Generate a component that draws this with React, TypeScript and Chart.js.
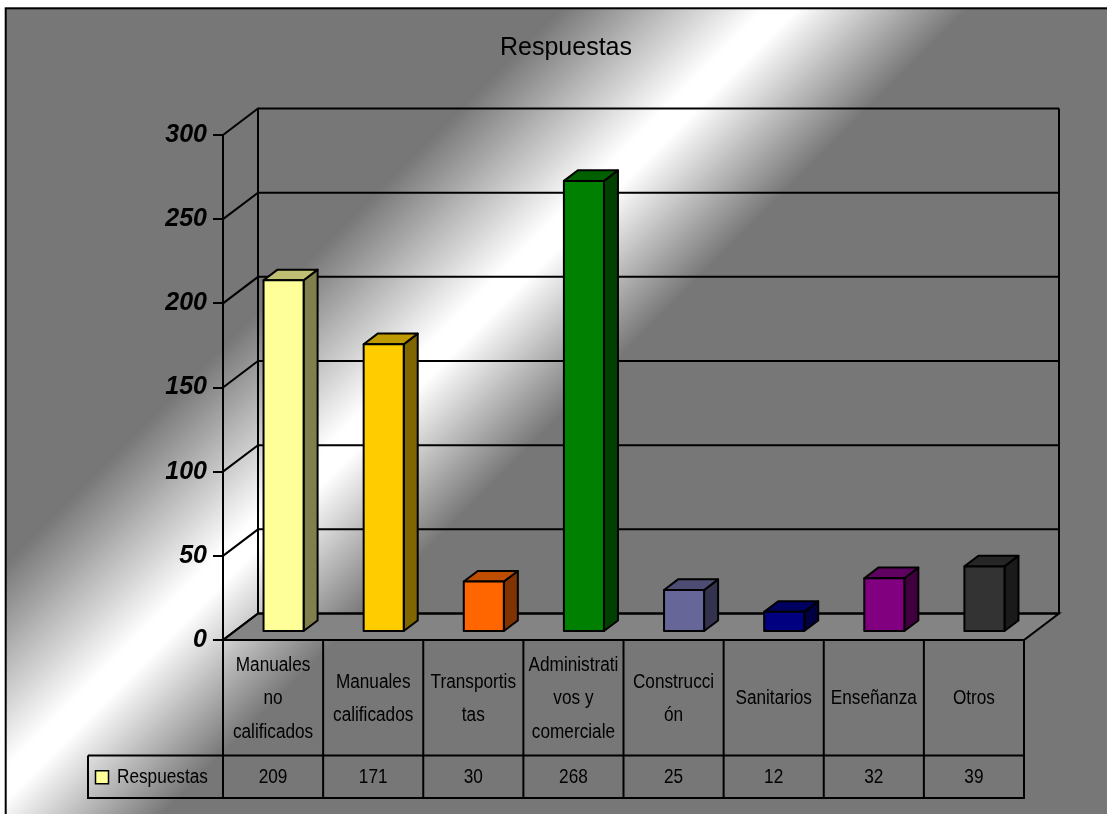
import React, { useEffect, useRef } from "react";
import { Chart, registerables } from "chart.js";

Chart.register(...registerables);

// ---------- data ----------
const chartTitle = "Respuestas";
const seriesName = "Respuestas";
const categories: string[][] = [
  ["Manuales", "no", "calificados"],
  ["Manuales", "calificados"],
  ["Transportis", "tas"],
  ["Administrati", "vos y", "comerciale"],
  ["Construcci", "ón"],
  ["Sanitarios"],
  ["Enseñanza"],
  ["Otros"],
];
const values: number[] = [209, 171, 30, 268, 25, 12, 32, 39];
const barColors: string[] = [
  "#FFFF99",
  "#FFCC00",
  "#FF6600",
  "#008000",
  "#666699",
  "#000080",
  "#800080",
  "#333333",
];
const yMin = 0;
const yMax = 300;
const yStep = 50;

// ---------- style ----------
const FONT = '"Liberation Sans", Arial, sans-serif';
const DEPTH_X = 35;
const DEPTH_Y = -26.5;
const BAR_FRONT = 0.3;
const BAR_BACK = 0.7;
const LINE = "#000000";
const CONDENSE = 0.86;

function shade(hex: string, f: number): string {
  const n = parseInt(hex.slice(1), 16);
  const r = Math.round(((n >> 16) & 255) * f);
  const g = Math.round(((n >> 8) & 255) * f);
  const b = Math.round((n & 255) * f);
  return `rgb(${r},${g},${b})`;
}

function condensedText(ctx: CanvasRenderingContext2D, text: string, x: number, y: number, align: CanvasTextAlign) {
  ctx.save();
  ctx.translate(x, y);
  ctx.scale(CONDENSE, 1);
  ctx.textAlign = align;
  ctx.fillText(text, 0, 0);
  ctx.restore();
}

const excel3d = {
  id: "excel3d",
  beforeDraw(chart: any) {
    const ctx: CanvasRenderingContext2D = chart.ctx;
    const W = chart.width;
    const H = chart.height;
    ctx.save();
    ctx.fillStyle = "#ffffff";
    ctx.fillRect(0, 0, W, H);
    const g = ctx.createLinearGradient(0, 0, H, H);
    g.addColorStop(0, "#777777");
    g.addColorStop(0.35, "#777777");
    g.addColorStop(0.475, "#ffffff");
    g.addColorStop(0.495, "#ffffff");
    g.addColorStop(0.6, "#777777");
    g.addColorStop(1, "#777777");
    ctx.fillStyle = g;
    ctx.fillRect(5.7, 8.3, W + 50, H + 50);
    ctx.strokeStyle = LINE;
    ctx.lineWidth = 2;
    ctx.strokeRect(5.7, 8.3, W + 50, H + 50);
    // title
    ctx.fillStyle = "#000";
    ctx.font = `25px ${FONT}`;
    ctx.textAlign = "center";
    ctx.textBaseline = "middle";
    ctx.fillText(chartTitle, 566, 48);
    ctx.restore();
  },
  beforeDatasetsDraw(chart: any) {
    const ctx: CanvasRenderingContext2D = chart.ctx;
    const { left, right, top, bottom } = chart.chartArea;
    const ys = chart.scales.y;
    ctx.save();
    ctx.strokeStyle = LINE;
    ctx.lineWidth = 2;
    ctx.lineJoin = "miter";
    // floor
    ctx.beginPath();
    ctx.moveTo(left, bottom);
    ctx.lineTo(right, bottom);
    ctx.lineTo(right + DEPTH_X, bottom + DEPTH_Y);
    ctx.lineTo(left + DEPTH_X, bottom + DEPTH_Y);
    ctx.closePath();
    ctx.fillStyle = "#848484";
    ctx.fill();
    ctx.stroke();
    // walls + gridlines
    ys.ticks.forEach((t: any) => {
      const yy = ys.getPixelForValue(t.value);
      ctx.beginPath();
      ctx.moveTo(left, yy);
      ctx.lineTo(left + DEPTH_X, yy + DEPTH_Y);
      ctx.lineTo(right + DEPTH_X, yy + DEPTH_Y);
      ctx.stroke();
    });
    ctx.beginPath();
    ctx.moveTo(left + DEPTH_X, top + DEPTH_Y);
    ctx.lineTo(left + DEPTH_X, bottom + DEPTH_Y);
    ctx.moveTo(right + DEPTH_X, top + DEPTH_Y);
    ctx.lineTo(right + DEPTH_X, bottom + DEPTH_Y);
    ctx.stroke();
    ctx.restore();
  },
  afterDatasetsDraw(chart: any) {
    const ctx: CanvasRenderingContext2D = chart.ctx;
    const meta = chart.getDatasetMeta(0);
    const fx = DEPTH_X * BAR_FRONT;
    const fy = DEPTH_Y * BAR_FRONT;
    const bx = DEPTH_X * BAR_BACK;
    const by = DEPTH_Y * BAR_BACK;
    ctx.save();
    ctx.strokeStyle = LINE;
    ctx.lineWidth = 2;
    ctx.lineJoin = "round";
    meta.data.forEach((el: any, i: number) => {
      const p = el.getProps(["x", "y", "base", "width"], true);
      const L = p.x - p.width / 2;
      const R = p.x + p.width / 2;
      const T = p.y;
      const B = p.base;
      const c = barColors[i % barColors.length];
      // side
      ctx.beginPath();
      ctx.moveTo(R + fx, T + fy);
      ctx.lineTo(R + bx, T + by);
      ctx.lineTo(R + bx, B + by);
      ctx.lineTo(R + fx, B + fy);
      ctx.closePath();
      ctx.fillStyle = shade(c, 0.5);
      ctx.fill();
      ctx.stroke();
      // top
      ctx.beginPath();
      ctx.moveTo(L + fx, T + fy);
      ctx.lineTo(R + fx, T + fy);
      ctx.lineTo(R + bx, T + by);
      ctx.lineTo(L + bx, T + by);
      ctx.closePath();
      ctx.fillStyle = shade(c, 0.75);
      ctx.fill();
      ctx.stroke();
      // front
      ctx.beginPath();
      ctx.rect(L + fx, T + fy, R - L, B - T);
      ctx.fillStyle = c;
      ctx.fill();
      ctx.stroke();
    });
    ctx.restore();
  },
  afterDraw(chart: any) {
    const ctx: CanvasRenderingContext2D = chart.ctx;
    const { left, right, bottom } = chart.chartArea;
    const xs = chart.scales.x;
    const labels: string[][] = chart.data.labels;
    const data: number[] = chart.data.datasets[0].data;
    const step = xs.getPixelForValue(1) - xs.getPixelForValue(0);
    const rowTop = bottom;
    const rowMid = bottom + 115.5;
    const rowBot = bottom + 158;
    const legendLeft = 88;
    const lineH = 33.5;
    ctx.save();
    ctx.strokeStyle = LINE;
    ctx.lineWidth = 2;
    // grid of table
    ctx.beginPath();
    ctx.moveTo(left, rowTop);
    ctx.lineTo(left, rowBot);
    for (let i = 0; i < labels.length; i++) {
      const xr = xs.getPixelForValue(i) + step / 2;
      ctx.moveTo(xr, rowTop);
      ctx.lineTo(xr, rowBot);
    }
    ctx.moveTo(legendLeft, rowMid);
    ctx.lineTo(right, rowMid);
    ctx.moveTo(legendLeft - 1, rowBot);
    ctx.lineTo(right + 1, rowBot);
    ctx.moveTo(legendLeft, rowMid);
    ctx.lineTo(legendLeft, rowBot);
    ctx.stroke();
    // text
    ctx.fillStyle = "#000";
    ctx.font = `20px ${FONT}`;
    ctx.textBaseline = "middle";
    const catCenter = (rowTop + rowMid) / 2;
    const valCenter = (rowMid + rowBot) / 2 + 1;
    labels.forEach((lines, i) => {
      const cx = xs.getPixelForValue(i);
      const n = lines.length;
      lines.forEach((ln, k) => {
        const yy = catCenter + (k - (n - 1) / 2) * lineH + 1;
        condensedText(ctx, ln, cx, yy, "center");
      });
      condensedText(ctx, String(data[i]), cx, valCenter, "center");
    });
    // legend key
    ctx.fillStyle = barColors[0];
    ctx.fillRect(95.5, valCenter - 7, 13, 13);
    ctx.lineWidth = 1.5;
    ctx.strokeRect(95.5, valCenter - 7, 13, 13);
    ctx.fillStyle = "#000";
    condensedText(ctx, seriesName, 117, valCenter, "left");
    ctx.restore();
  },
};

export default function App() {
  const ref = useRef<HTMLCanvasElement | null>(null);
  useEffect(() => {
    if (!ref.current) return;
    const chart = new Chart(ref.current, {
      type: "bar",
      data: {
        labels: categories as any,
        datasets: [
          {
            label: seriesName,
            data: values,
            backgroundColor: "rgba(0,0,0,0)",
            borderWidth: 0,
            barPercentage: 0.4,
            categoryPercentage: 1,
          },
        ],
      },
      options: {
        responsive: false,
        animation: false,
        devicePixelRatio: 1,
        layout: { padding: { left: 0, right: 83, top: 135, bottom: 174 } },
        plugins: {
          legend: { display: false },
          title: { display: false },
          tooltip: { enabled: false },
        },
        events: [],
        scales: {
          x: { display: false, offset: true },
          y: {
            min: yMin,
            max: yMax,
            ticks: {
              stepSize: yStep,
              color: "#000",
              padding: 6,
              font: { family: FONT, size: 25, weight: "bold", style: "italic" },
            },
            grid: {
              drawOnChartArea: false,
              drawTicks: true,
              tickLength: 10,
              color: "#000",
              lineWidth: 2,
            },
            border: { display: true, color: "#000", width: 2 },
            afterFit: (s: any) => {
              s.width = 223;
            },
          },
        },
      } as any,
      plugins: [excel3d],
    });
    return () => chart.destroy();
  }, []);
  return (
    <div style={{ position: "fixed", left: 0, top: 0, width: 1107, height: 814, background: "#fff" }}>
      <canvas ref={ref} width={1107} height={814} style={{ width: 1107, height: 814, display: "block" }} />
    </div>
  );
}
